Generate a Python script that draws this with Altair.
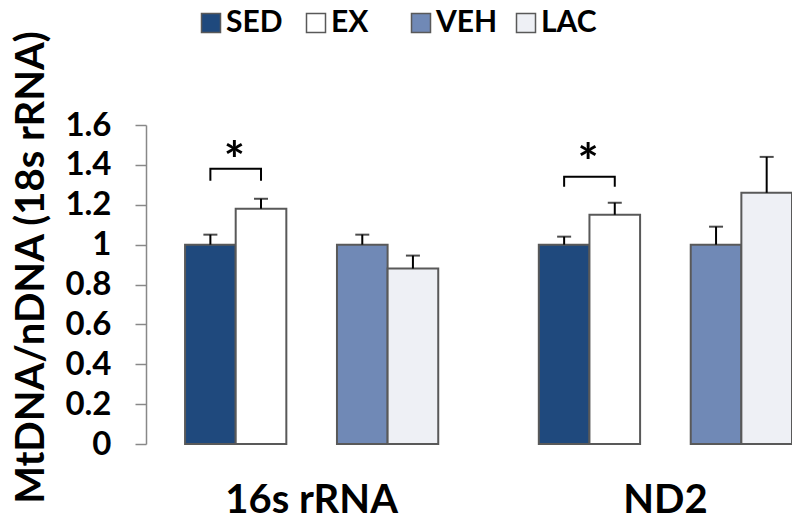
import altair as alt
import pandas as pd

# ---- data ----
groups = ["16s rRNA", "16s rRNA", "16s rRNA", "16s rRNA", "ND2", "ND2", "ND2", "ND2"]
conditions = ["SED", "EX", "VEH", "LAC", "SED", "EX", "VEH", "LAC"]
means = [1.00, 1.18, 1.00, 0.88, 1.00, 1.15, 1.00, 1.26]
errors = [0.05, 0.05, 0.05, 0.065, 0.04, 0.06, 0.09, 0.18]

group_order = ["16s rRNA", "ND2"]
legend_order = ["SED", "EX", "VEH", "LAC"]
slot_order = ["SED", "EX", "gap", "VEH", "LAC"]
fill_colors = ["#1f497d", "#ffffff", "#7089b6", "#eef0f5"]

y_ticks = [0, 0.2, 0.4, 0.6, 0.8, 1.0, 1.2, 1.4, 1.6]

# significance annotations (SED vs EX in each group)
sig_groups = ["16s rRNA", "ND2"]
bracket_top = [1.38, 1.34]
bracket_drop = [1.32, 1.29]
star_y = [1.41, 1.40]

FONT = "Lato"

bars_df = pd.DataFrame({"group": groups, "cond": conditions, "mean": means, "err": errors})
bars_df["upper"] = bars_df["mean"] + bars_df["err"]

path_rows = []
for g, top, drop in zip(sig_groups, bracket_top, bracket_drop):
    path_rows += [
        {"group": g, "cond": "SED", "y": drop, "o": 0},
        {"group": g, "cond": "SED", "y": top, "o": 1},
        {"group": g, "cond": "EX", "y": top, "o": 2},
        {"group": g, "cond": "EX", "y": drop, "o": 3},
    ]
bracket_df = pd.DataFrame(path_rows)
star_df = pd.DataFrame({"group": sig_groups, "cond": ["SED", "SED"], "y": star_y})

x_enc = alt.X(
    "group:N",
    sort=group_order,
    scale=alt.Scale(domain=group_order, paddingInner=0.2843, paddingOuter=0.0552, align=1),
    axis=alt.Axis(
        title=None, domain=False, ticks=False, grid=False, labelAngle=0, labelPadding=36,
        labelFont=FONT, labelFontSize=40, labelFontWeight="bold", labelColor="#000000",
    ),
)
xo_enc = alt.XOffset("cond:N", scale=alt.Scale(domain=slot_order, paddingInner=0, paddingOuter=0))
y_scale = alt.Scale(domain=[0, 1.6], nice=False, zero=True)

y_axis = alt.Axis(
    title="MtDNA/nDNA (18s rRNA)", values=y_ticks, tickCount=9, format="~g", grid=False,
    labelOverlap=False, labelBound=False,
    domainColor="#888888", domainWidth=1.5, tickColor="#888888", tickWidth=1.5,
    tickSize=11, labelPadding=24, labelFont=FONT, labelFontSize=33,
    labelFontWeight="bold", labelColor="#000000",
    titleFont=FONT, titleFontSize=40, titleFontWeight="bold", titleColor="#000000",
    titleX=-95, titleY=142,
)

bars = alt.Chart(bars_df).mark_bar(stroke="#595959", strokeWidth=2).encode(
    x=x_enc,
    xOffset=xo_enc,
    y=alt.Y("mean:Q", scale=y_scale, axis=y_axis),
    color=alt.Color(
        "cond:N",
        scale=alt.Scale(domain=legend_order, range=fill_colors),
        legend=alt.Legend(
            title=None, orient="none", legendX=50, legendY=-117, direction="horizontal",
            symbolType="square", symbolSize=361, symbolStrokeColor="#595959",
            symbolStrokeWidth=1.5, symbolOpacity=1, labelFont=FONT, labelFontSize=30,
            labelFontWeight="bold", labelColor="#000000", labelOffset=0,
            columnPadding=13, gridAlign="all", padding=0,
        ),
    ),
)

err_rule = alt.Chart(bars_df).mark_rule(color="#000000", strokeWidth=2).encode(
    x=x_enc, xOffset=xo_enc, y=alt.Y("mean:Q", scale=y_scale, axis=y_axis), y2="upper:Q"
)
err_cap = alt.Chart(bars_df).mark_tick(color="#000000", thickness=2, size=14, orient="horizontal").encode(
    x=x_enc, xOffset=xo_enc, y=alt.Y("upper:Q", scale=y_scale, axis=y_axis)
)

brackets = alt.Chart(bracket_df).mark_line(color="#000000", strokeWidth=2).encode(
    x=x_enc, xOffset=xo_enc, y=alt.Y("y:Q", scale=y_scale, axis=y_axis), detail="group:N", order="o:Q"
)

stars = alt.Chart(star_df).mark_text(
    text="*", font=FONT, fontSize=50, fontWeight="bold", color="#000000", dx=24, baseline="middle"
).encode(x=x_enc, xOffset=xo_enc, y=alt.Y("y:Q", scale=y_scale, axis=y_axis))

chart = (
    alt.layer(bars, err_rule, err_cap, brackets, stars)
    .properties(
        width=646, height=319,
        background="#ffffff",
        autosize=alt.AutoSizeParams(type="none"),
        padding={"left": 138, "top": 117, "right": 0, "bottom": 80},
    )
    .configure_view(strokeWidth=0, strokeOpacity=0)
    .configure_axis(grid=False, labelOverlap=False)
)

chart.save("out.html", embed_options={"renderer": "svg", "actions": False})
